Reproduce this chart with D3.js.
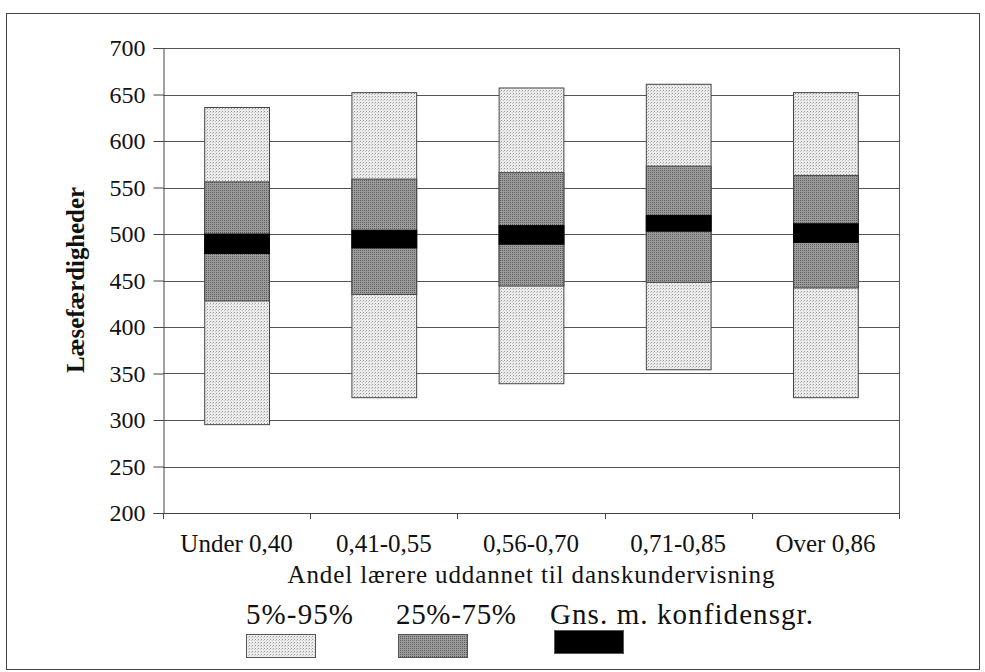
<!DOCTYPE html>
<html>
<head>
<meta charset="utf-8">
<script src="https://cdn.jsdelivr.net/npm/d3@7"></script>
<style>
  body { margin: 0; background: #fff; }
  text { font-family: "Liberation Serif", "Times New Roman", serif; fill: #111; }
</style>
</head>
<body>
<div id="chart"></div>
<script>
// data
var categories = ["Under 0,40", "0,41-0,55", "0,56-0,70", "0,71-0,85", "Over 0,86"];
var p5  = [295, 324, 339, 354, 324];
var p25 = [428, 435, 444, 448, 442];
var ciLo = [479, 485, 489, 503, 491];
var ciHi = [500, 504, 509, 520, 511];
var p75 = [556, 559, 566, 573, 563];
var p95 = [636, 652, 657, 661, 652];
var yTicks = [200, 250, 300, 350, 400, 450, 500, 550, 600, 650, 700];
var legendLabels = ["5%-95%", "25%-75%", "Gns. m. konfidensgr."];

var draw_chart = function () {
    var width = 985, height = 672;
    var svg = d3.select("#chart").append("svg")
        .attr("width", width)
        .attr("height", height);

    // stipple patterns like the scan
    var defs = svg.append("defs");
    var light = defs.append("pattern").attr("id", "light")
        .attr("width", 3).attr("height", 3).attr("patternUnits", "userSpaceOnUse");
    light.append("rect").attr("width", 3).attr("height", 3).attr("fill", "#ececec");
    light.append("rect").attr("x", 0).attr("y", 0).attr("width", 1).attr("height", 1).attr("fill", "#9a9a9a");
    light.append("rect").attr("x", 2).attr("y", 1).attr("width", 1).attr("height", 1).attr("fill", "#c4c4c4");
    var dark = defs.append("pattern").attr("id", "dark")
        .attr("width", 2).attr("height", 2).attr("patternUnits", "userSpaceOnUse");
    dark.append("rect").attr("width", 2).attr("height", 2).attr("fill", "#9c9c9c");
    dark.append("rect").attr("x", 0).attr("y", 0).attr("width", 1).attr("height", 1).attr("fill", "#5e5e5e");

    // outer frame
    svg.append("rect")
        .attr("x", 6.5).attr("y", 13.5)
        .attr("width", 973).attr("height", 656)
        .attr("fill", "none").attr("stroke", "#444").attr("stroke-width", 1);

    var pLeft = 163, pRight = 899, pTop = 48, pBottom = 513;

    var y = d3.scaleLinear().domain([200, 700]).range([pBottom, pTop]);
    var x = d3.scaleBand().domain(categories).range([pLeft, pRight])
        .paddingInner(0.56).paddingOuter(0.28);

    // gridlines
    svg.append("g").selectAll("line")
        .data(yTicks)
        .enter().append("line")
        .attr("x1", pLeft).attr("x2", pRight)
        .attr("y1", function (d) { return Math.round(y(d)) + 0.5; })
        .attr("y2", function (d) { return Math.round(y(d)) + 0.5; })
        .attr("stroke", "#555").attr("stroke-width", 1);

    // right border of plot
    svg.append("line")
        .attr("x1", pRight + 0.5).attr("x2", pRight + 0.5)
        .attr("y1", pTop).attr("y2", pBottom)
        .attr("stroke", "#555");

    // y axis
    var yAxis = svg.append("g")
        .attr("transform", "translate(" + (pLeft + 0.5) + ",0)")
        .call(d3.axisLeft(y).tickValues(yTicks).tickSize(10).tickPadding(8));
    yAxis.select(".domain").attr("stroke", "#444");
    yAxis.selectAll(".tick line").attr("stroke", "#444");
    yAxis.selectAll("text")
        .style("font-family", "Liberation Serif, serif")
        .style("font-size", "24px").attr("fill", "#111");

    // x axis, ticks at band boundaries
    var bounds = categories.map(function (c) { return x(c) - x.step() * x.paddingInner() / 2; });
    bounds.push(pRight);
    var xg = svg.append("g");
    xg.append("line")
        .attr("x1", pLeft).attr("x2", pRight)
        .attr("y1", pBottom + 0.5).attr("y2", pBottom + 0.5)
        .attr("stroke", "#444");
    xg.selectAll("line.tk")
        .data(bounds)
        .enter().append("line").attr("class", "tk")
        .attr("x1", function (d) { return Math.round(d) + 0.5; })
        .attr("x2", function (d) { return Math.round(d) + 0.5; })
        .attr("y1", pBottom).attr("y2", pBottom + 6)
        .attr("stroke", "#444");
    xg.selectAll("text")
        .data(categories)
        .enter().append("text")
        .attr("x", function (d) { return x(d) + x.bandwidth() / 2; })
        .attr("y", 552)
        .attr("text-anchor", "middle")
        .style("font-size", "25px")
        .text(function (d) { return d; });

    // boxes
    var bars = svg.append("g");
    function segs(lo, hi, fill) {
        bars.selectAll(null)
            .data(categories)
            .enter().append("rect")
            .attr("x", function (d) { return x(d) + 0.5; })
            .attr("width", x.bandwidth())
            .attr("y", function (d, i) { return y(hi[i]); })
            .attr("height", function (d, i) { return y(lo[i]) - y(hi[i]); })
            .attr("fill", fill)
            .attr("stroke", fill == "#000" ? "#000" : "#444")
            .attr("stroke-width", 1);
    }
    segs(p5, p95, "url(#light)");
    segs(p25, p75, "url(#dark)");
    segs(ciLo, ciHi, "#000");

    // axis titles
    svg.append("text")
        .attr("transform", "translate(84,280) rotate(-90)")
        .attr("text-anchor", "middle")
        .attr("textLength", 186).attr("lengthAdjust", "spacing")
        .style("font-size", "25px").style("font-weight", "bold")
        .text("Læsefærdigheder");

    svg.append("text")
        .attr("x", 531).attr("y", 583)
        .attr("text-anchor", "middle")
        .attr("textLength", 487).attr("lengthAdjust", "spacing")
        .style("font-size", "25px")
        .text("Andel lærere uddannet til danskundervisning");

    // legend
    var legendX = [246, 396, 550];
    var legendW = [107, 120, 263];
    var legendFill = ["url(#light)", "url(#dark)", "#000"];
    var lg = svg.append("g");
    lg.selectAll("text")
        .data(legendLabels)
        .enter().append("text")
        .attr("x", function (d, i) { return legendX[i]; })
        .attr("y", 624)
        .attr("textLength", function (d, i) { return legendW[i]; })
        .attr("lengthAdjust", "spacing")
        .style("font-size", "29px")
        .text(function (d) { return d; });
    var boxX = [246, 398, 554];
    lg.selectAll("rect")
        .data(legendLabels)
        .enter().append("rect")
        .attr("x", function (d, i) { return boxX[i] + 0.5; })
        .attr("y", function (d, i) { return i == 2 ? 630.5 : 634.5; })
        .attr("width", 69)
        .attr("height", 23)
        .attr("fill", function (d, i) { return legendFill[i]; })
        .attr("stroke", "#555");
};

draw_chart();
</script>
</body>
</html>
